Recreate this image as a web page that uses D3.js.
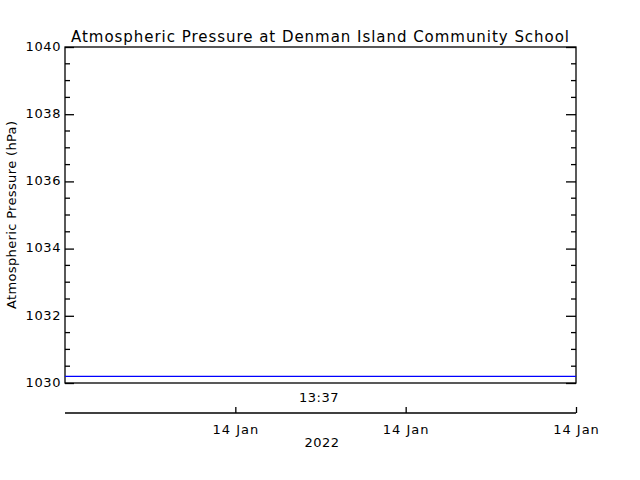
<!DOCTYPE html>
<html><head><meta charset="utf-8">
<script src="https://cdn.jsdelivr.net/npm/d3@7"></script>
<style>body{margin:0;background:#fff}text{font-family:"DejaVu Sans",sans-serif;fill:#000}</style>
</head><body>
<svg id="c" width="640" height="480"></svg>
<script>
const title = "Atmospheric Pressure at Denman Island Community School";
const yLabel = "Atmospheric Pressure (hPa)";
const times = ["2022-01-14T13:37:00", "2022-01-14T13:37:03"];
const pressures = [1030.2, 1030.2];
const yTicks = [1030, 1032, 1034, 1036, 1038, 1040];
const xTickTimes = ["2022-01-14T13:37:01", "2022-01-14T13:37:02", "2022-01-14T13:37:03"];
const timeLabel = "13:37";
const yearLabel = "2022";

const parse = d3.isoParse;
const svg = d3.select("#c");
const L = 65, R = 576, T = 47, B = 383;
const x = d3.scaleTime().domain([parse(times[0]), parse(times[times.length-1])]).range([L, R]);
const y = d3.scaleLinear().domain([1030, 1040]).range([B, T]);
const minor = d3.range(1030, 1040.01, 0.5).filter(v => !yTicks.includes(v));

svg.append("rect").attr("x", L).attr("y", T).attr("width", R-L).attr("height", B-T)
  .attr("fill", "none").attr("stroke", "#000").attr("stroke-width", 1.3);

// left axis
const gl = svg.append("g").attr("transform", `translate(${L},0)`);
gl.call(d3.axisLeft(y).tickValues(yTicks).tickSize(-9).tickPadding(4).tickFormat(d3.format("d")))
  .call(g => g.select(".domain").remove());
gl.selectAll("text").style("font-size", "13px").style("letter-spacing", "0.6px").attr("dy", "0.25em");
gl.selectAll("line").attr("stroke-width", 1.3);
gl.append("g").selectAll("line").data(minor).join("line")
  .attr("x1", 0).attr("x2", 5).attr("y1", d => y(d)).attr("y2", d => y(d)).attr("stroke", "#000").attr("stroke-width", 1.3);

// right axis
const gr = svg.append("g").attr("transform", `translate(${R},0)`);
gr.call(d3.axisRight(y).tickValues(yTicks).tickSize(-10).tickFormat(""))
  .call(g => g.select(".domain").remove());
gr.selectAll("line").attr("stroke-width", 1.3);
gr.append("g").selectAll("line").data(minor).join("line")
  .attr("x1", 0).attr("x2", -5).attr("y1", d => y(d)).attr("y2", d => y(d)).attr("stroke", "#000").attr("stroke-width", 1.3);

// data line
svg.append("path").datum(times.map((t, i) => [parse(t), pressures[i]]))
  .attr("d", d3.line().x(d => x(d[0])).y(d => y(d[1])))
  .attr("fill", "none").attr("stroke", "#0000ff").attr("stroke-width", 1.3);

// time label
svg.append("text").attr("x", 319).attr("y", 402).attr("text-anchor", "middle").style("font-size", "13px")
  .style("letter-spacing", "0.5px").text(timeLabel);

// lower date axis
const gx = svg.append("g").attr("transform", "translate(0,413)");
gx.call(d3.axisBottom(x).tickValues(xTickTimes.map(parse)).tickSize(-6).tickPadding(12).tickFormat(d3.timeFormat("%d %b")))
  .call(g => g.select(".domain").attr("d", `M${L},0H${R}`).attr("stroke-width", 1.3));
gx.selectAll("line").attr("stroke-width", 1.3);
gx.selectAll("text").style("font-size", "13px").style("letter-spacing", "1px");

svg.append("text").attr("x", 322).attr("y", 447).attr("text-anchor", "middle").style("font-size", "13px")
  .style("letter-spacing", "0.5px").text(yearLabel);

// title
svg.append("text").attr("x", 320).attr("y", 42).attr("text-anchor", "middle").style("font-size", "15px")
  .attr("textLength", 498).attr("lengthAdjust", "spacing").text(title);

// y label
svg.append("text").attr("transform", "translate(16,215) rotate(-90)").attr("text-anchor", "middle")
  .style("font-size", "13px").attr("textLength", 188).attr("lengthAdjust", "spacing").text(yLabel);
</script>
</body></html>
